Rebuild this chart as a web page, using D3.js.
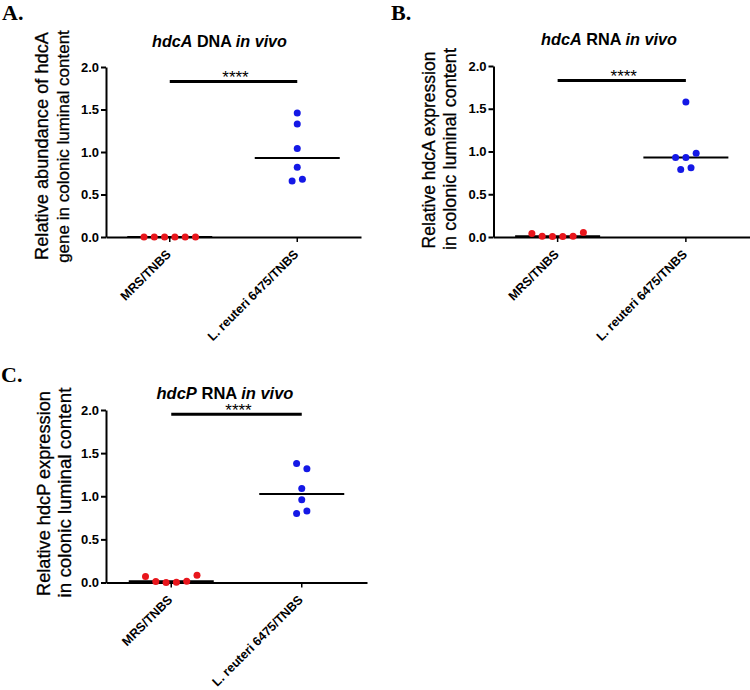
<!DOCTYPE html>
<html><head><meta charset="utf-8">
<script src="https://cdn.jsdelivr.net/npm/d3@7"></script>
<style>body{margin:0;background:#fff} svg{display:block}</style>
</head><body>
<script>
// ---------- data ----------
const categories = ["MRS/TNBS", "L. reuteri 6475/TNBS"];
const yTickValues = [0, 0.5, 1.0, 1.5, 2.0];
const panelLetters = ["A.", "B.", "C."];
const titleGene = ["hdcA", "hdcA", "hdcP"];
const titleAssay = ["DNA", "RNA", "RNA"];
const titleCondition = "in vivo";
const yLabelLine1 = ["Relative abundance of hdcA", "Relative hdcA expression", "Relative hdcP expression"];
const yLabelLine2 = ["gene in colonic luminal content", "in colonic luminal content", "in colonic luminal content"];
const mrsA = [0, 0, 0, 0, 0, 0];
const reuteriA = [1.46, 1.33, 1.04, 0.82, 0.66, 0.68];
const mrsB = [0.04, 0.008, 0.006, 0.006, 0.008, 0.052];
const reuteriB = [1.58, 0.93, 0.93, 0.98, 0.79, 0.81];
const mrsC = [0.07, 0.012, 0, 0.003, 0.015, 0.085];
const reuteriC = [1.38, 1.32, 1.09, 0.96, 0.80, 0.83];
const significanceY = [1.83, 1.83, 1.95];
const significanceLabel = "****";
const groupColors = ["#e8161c", "#1418e6"];

// ---------- layout ----------
const W = 750, H = 690;
const SANS = "'Liberation Sans', Arial, Helvetica, sans-serif";
const SERIF = "'Liberation Serif', 'Times New Roman', serif";
const panels = [
  {groups: [mrsA, reuteriA], x0: 106, x1: 361, yb: 237, yt: 67, lx: 2, ly: 20, tx: 219.5, ty: 46.5,
   tw: 135, yl1: [42, 146, 228], yl2: [63, 146.5, 233]},
  {groups: [mrsB, reuteriB], x0: 493.5, x1: 750, yb: 237, yt: 66, lx: 391, ly: 20, tx: 609, ty: 45,
   tw: 136, yl1: [428.5, 150, 197], yl2: [449.5, 149, 202]},
  {groups: [mrsC, reuteriC], x0: 106, x1: 367, yb: 582.5, yt: 410, lx: 1, ly: 382, tx: 225, ty: 398.5,
   tw: 137, yl1: [43.5, 493.5, 205], yl2: [64.5, 492.5, 210]}
];

const svg = d3.select("body").append("svg").attr("width", W).attr("height", H);

function fitWidth(sel, size, target) {
  sel.attr("font-size", size);
  const w = sel.node().getComputedTextLength();
  if (w > 0) sel.attr("font-size", size * target / w);
}

function swarm(values, y, spacing, thresh) {
  const idx = values.map((v, i) => i).sort((a, b) => values[b] - values[a]);
  const rows = []; let cur = null;
  idx.forEach(i => {
    const py = y(values[i]);
    if (cur && Math.abs(py - cur.y0) < thresh) cur.items.push(i);
    else { cur = {y0: py, items: [i]}; rows.push(cur); }
  });
  const off = new Array(values.length);
  rows.forEach(r => {
    r.items.sort((a, b) => a - b);
    const n = r.items.length;
    r.items.forEach((i, k) => off[i] = (k - (n - 1) / 2) * spacing);
  });
  return off;
}

panels.forEach((p, pi) => {
  const g = svg.append("g");
  const x = d3.scaleBand().domain(categories).range([p.x0, p.x1]);
  const y = d3.scaleLinear().domain([0, 2]).range([p.yb, p.yt]);
  const cx = c => x(c) + x.bandwidth() / 2;

  // panel letter
  svg.append("text").attr("x", p.lx).attr("y", p.ly)
    .attr("font-family", SERIF).attr("font-weight", "bold").attr("font-size", 22)
    .text(panelLetters[pi]);

  // title
  const t = svg.append("text").attr("x", p.tx).attr("y", p.ty).attr("text-anchor", "middle")
    .attr("font-family", SANS).attr("font-weight", "bold");
  t.append("tspan").attr("font-style", "italic").text(titleGene[pi]);
  t.append("tspan").text(" " + titleAssay[pi] + " ");
  t.append("tspan").attr("font-style", "italic").text(titleCondition);
  fitWidth(t, 16, p.tw);

  // y label
  [[yLabelLine1[pi], p.yl1], [yLabelLine2[pi], p.yl2]].forEach(([s, pos]) => {
    const yl = svg.append("text").attr("transform", `translate(${pos[0]},${pos[1]}) rotate(-90)`)
      .attr("text-anchor", "middle").attr("dominant-baseline", "central")
      .attr("font-family", SANS).attr("fill", "#000")
      .attr("stroke", "#000").attr("stroke-width", 0.3).text(s);
    fitWidth(yl, 17, pos[2]);
  });

  // y axis
  const ya = g.append("g").attr("transform", `translate(${p.x0},0)`)
    .call(d3.axisLeft(y).tickValues(yTickValues).tickFormat(d3.format(".1f")).tickSize(5).tickSizeOuter(0).tickPadding(2));
  ya.select(".domain").attr("stroke-width", 2);
  ya.selectAll(".tick line").attr("stroke-width", 2);
  ya.selectAll(".tick text").attr("font-family", SANS).attr("font-weight", "bold").attr("font-size", 13).attr("fill", "#000");

  // x axis
  const xa = g.append("g").attr("transform", `translate(0,${p.yb})`)
    .call(d3.axisBottom(x).tickSize(5).tickSizeOuter(0));
  xa.select(".domain").attr("stroke-width", 2);
  xa.selectAll(".tick line").attr("stroke-width", 1.5);
  xa.selectAll(".tick text").attr("font-family", SANS).attr("font-weight", "bold").attr("font-size", 12.5).attr("fill", "#000")
    .attr("x", 0).attr("y", 0).attr("dy", null).attr("text-anchor", "end")
    .attr("transform", "translate(2,18) rotate(-45)");

  // medians
  p.groups.forEach((vals, gi) => {
    const m = d3.median(vals);
    g.append("line").attr("x1", cx(categories[gi]) - 42.5).attr("x2", cx(categories[gi]) + 42.5)
      .attr("y1", y(m)).attr("y2", y(m)).attr("stroke", "#000").attr("stroke-width", 2);
  });

  // points
  p.groups.forEach((vals, gi) => {
    const off = swarm(vals, y, 10.3, 8);
    g.selectAll(null).data(vals).enter().append("circle")
      .attr("cx", (d, i) => cx(categories[gi]) + off[i])
      .attr("cy", d => y(d)).attr("r", 3.5).attr("fill", groupColors[gi]);
  });

  // significance
  const sy = y(significanceY[pi]);
  g.append("line").attr("x1", cx(categories[0])).attr("x2", cx(categories[1]))
    .attr("y1", sy).attr("y2", sy).attr("stroke", "#000").attr("stroke-width", 3);
  g.append("text").attr("x", (cx(categories[0]) + cx(categories[1])) / 2 + 2).attr("y", sy + 1.5)
    .attr("text-anchor", "middle").attr("font-family", SANS).attr("font-size", 17).text(significanceLabel);
});
</script>
</body></html>
